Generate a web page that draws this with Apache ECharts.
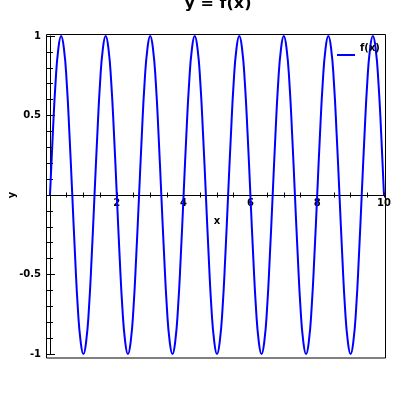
<!DOCTYPE html>
<html>
<head>
<meta charset="utf-8">
<script src="https://cdn.jsdelivr.net/npm/echarts@6/dist/echarts.min.js"></script>
<style>html,body{margin:0;padding:0;background:#fff}#c{width:400px;height:400px}</style>
</head>
<body>
<div id="c"></div>
<script>
var titleText = 'y = f(x)';
var seriesName = 'f(x)';
var xName = 'x';
var yName = 'y';
var xVals = [
0,0.083,0.167,0.25,0.333,0.417,0.5,0.583,0.667,0.75,0.833,0.917,
1,1.083,1.167,1.25,1.333,1.417,1.5,1.583,1.667,1.75,1.833,1.917,
2,2.083,2.167,2.25,2.333,2.417,2.5,2.583,2.667,2.75,2.833,2.917,
3,3.083,3.167,3.25,3.333,3.417,3.5,3.583,3.667,3.75,3.833,3.917,
4,4.083,4.167,4.25,4.333,4.417,4.5,4.583,4.667,4.75,4.833,4.917,
5,5.083,5.167,5.25,5.333,5.417,5.5,5.583,5.667,5.75,5.833,5.917,
6,6.083,6.167,6.25,6.333,6.417,6.5,6.583,6.667,6.75,6.833,6.917,
7,7.083,7.167,7.25,7.333,7.417,7.5,7.583,7.667,7.75,7.833,7.917,
8,8.083,8.167,8.25,8.333,8.417,8.5,8.583,8.667,8.75,8.833,8.917,
9,9.083,9.167,9.25,9.333,9.417,9.5,9.583,9.667,9.75,9.833,9.917,
10];
var yVals = [
0,0.38,0.71,0.92,1,0.92,0.71,0.38,0,-0.38,-0.71,-0.92,-1,-0.92,-0.71,-0.38,
0,0.38,0.71,0.92,1,0.92,0.71,0.38,0,-0.38,-0.71,-0.92,-1,-0.92,-0.71,-0.38,
0,0.38,0.71,0.92,1,0.92,0.71,0.38,0,-0.38,-0.71,-0.92,-1,-0.92,-0.71,-0.38,
0,0.38,0.71,0.92,1,0.92,0.71,0.38,0,-0.38,-0.71,-0.92,-1,-0.92,-0.71,-0.38,
0,0.38,0.71,0.92,1,0.92,0.71,0.38,0,-0.38,-0.71,-0.92,-1,-0.92,-0.71,-0.38,
0,0.38,0.71,0.92,1,0.92,0.71,0.38,0,-0.38,-0.71,-0.92,-1,-0.92,-0.71,-0.38,
0,0.38,0.71,0.92,1,0.92,0.71,0.38,0,-0.38,-0.71,-0.92,-1,-0.92,-0.71,-0.38,
0,0.38,0.71,0.92,1,0.92,0.71,0.38,0];
var xTickLabels = [2, 4, 6, 8, 10];
var yTickLabels = [1, 0.5, -0.5, -1];

var data = xVals.map(function (x, i) { return [x, yVals[i]]; });
var font = 'DejaVu Sans';
function near(list, v) {
  for (var i = 0; i < list.length; i++) if (Math.abs(list[i] - v) < 1e-6) return true;
  return false;
}
var chart = echarts.init(document.getElementById('c'), null, {renderer: 'canvas'});
var axisLineStyle = {color: '#000', width: 1};
var xOff = -159;
chart.setOption({
  animation: false,
  backgroundColor: '#fff',
  title: {
    text: titleText, left: 213, textAlign: 'center', top: -9,
    textStyle: {fontFamily: font, fontWeight: 'bold', fontSize: 16, color: '#000'}
  },
  legend: {
    data: [{name: seriesName, icon: 'rect'}],
    left: 337, top: 43, padding: 0,
    itemWidth: 18, itemHeight: 2, itemGap: 3,
    formatter: '{a|{name}}',
    textStyle: {
      fontFamily: font, fontWeight: 'bold', fontSize: 10, color: '#000',
      rich: {a: {fontFamily: font, fontWeight: 'bold', fontSize: 10, color: '#000', padding: [0, 0, 14, 0]}}
    }
  },
  grid: {left: 50, right: 16, top: 36, bottom: 46, containLabel: false, outerBoundsMode: 'none'},
  graphic: [{
    type: 'rect', z: -1, silent: true,
    shape: {x: 46.5, y: 34.5, width: 339, height: 323.5},
    style: {fill: 'none', stroke: '#000', lineWidth: 1}
  }],
  xAxis: [{
    type: 'value', min: 0, max: 10, interval: 0.5,
    position: 'bottom', offset: xOff,
    axisLine: {show: true, onZero: false, lineStyle: axisLineStyle},
    axisTick: {show: true, inside: false, length: 2.5, lineStyle: axisLineStyle},
    axisLabel: {
      margin: 3, color: '#000', fontFamily: font, fontWeight: 'bold', fontSize: 10,
      formatter: function (v) { return near(xTickLabels, v) ? String(v) : ''; }
    },
    splitLine: {show: false},
    name: xName, nameLocation: 'middle', nameGap: 21, nameMoveOverlap: false,
    nameTextStyle: {fontFamily: font, fontWeight: 'bold', fontSize: 10, color: '#000'}
  }, {
    type: 'value', min: 0, max: 10, interval: 0.5,
    position: 'bottom', offset: xOff,
    axisLine: {show: false, onZero: false},
    axisTick: {show: true, inside: true, length: 2.5, lineStyle: axisLineStyle},
    axisLabel: {show: false},
    splitLine: {show: false}
  }],
  yAxis: [{
    type: 'value', min: -1, max: 1, interval: 0.5,
    position: 'left', offset: 0,
    axisLine: {show: true, onZero: false, lineStyle: axisLineStyle},
    axisTick: {show: true, inside: false, length: 4, lineStyle: axisLineStyle},
    minorTick: {show: true, splitNumber: 5, length: 4, lineStyle: axisLineStyle},
    axisLabel: {
      margin: 9, color: '#000', fontFamily: font, fontWeight: 'bold', fontSize: 10,
      formatter: function (v) { return near(yTickLabels, v) ? String(v) : ''; }
    },
    splitLine: {show: false},
    minorSplitLine: {show: false},
    name: yName, nameLocation: 'middle', nameGap: 33, nameRotate: 90, nameMoveOverlap: false,
    nameTextStyle: {fontFamily: font, fontWeight: 'bold', fontSize: 10, color: '#000'}
  }, {
    type: 'value', min: -1, max: 1, interval: 0.5,
    position: 'left', offset: 0,
    axisLine: {show: false, onZero: false},
    axisTick: {show: true, inside: true, length: 5, lineStyle: axisLineStyle},
    minorTick: {show: true, splitNumber: 5, length: 3, lineStyle: axisLineStyle},
    axisLabel: {show: false},
    splitLine: {show: false},
    minorSplitLine: {show: false}
  }],
  series: [{
    name: seriesName, type: 'line', xAxisIndex: 0, yAxisIndex: 0,
    data: data, smooth: true, symbol: 'none', clip: false,
    lineStyle: {color: '#0000ff', width: 2},
    itemStyle: {color: '#0000ff'}
  }]
});
</script>
</body>
</html>
